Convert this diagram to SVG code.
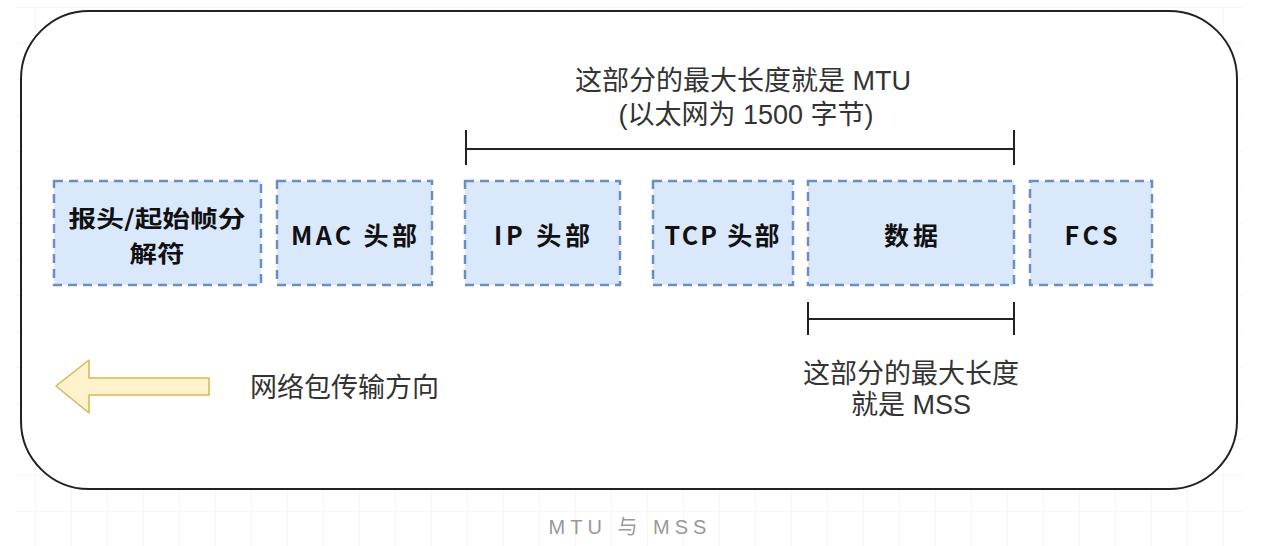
<svg xmlns="http://www.w3.org/2000/svg" width="1275" height="546" viewBox="0 0 1275 546">
<defs>
<pattern id="grid" x="-1" y="7" width="36" height="36" patternUnits="userSpaceOnUse">
<path d="M36 0H0V36" fill="none" stroke="#f0f0f0" stroke-width="1"/>
</pattern>
<style>
.box{fill:#dae8fc;stroke:#6c8ebf;stroke-width:2.5;stroke-dasharray:9 6;}
.lbl{font-family:"Noto Sans CJK SC","Liberation Sans",sans-serif;font-weight:bold;font-size:25px;fill:#111;text-anchor:middle;}
.lbl2{font-size:23px;}
.note{font-family:"Liberation Sans","Noto Sans CJK SC",sans-serif;font-size:27px;fill:#333;text-anchor:middle;}
.br{stroke:#222;stroke-width:2;fill:none;}
</style>
</defs>
<rect x="0" y="0" width="1275" height="546" fill="#fff"/>
<rect x="15" y="7" width="1228" height="539" fill="url(#grid)"/>
<rect id="frame" x="21" y="11" width="1216" height="478" rx="68" ry="68" fill="#fff" stroke="#222" stroke-width="2"/>

<g id="n-preamble"><rect class="box" x="54" y="181" width="207" height="104"/><text class="lbl lbl2" x="157" y="227" textLength="177" lengthAdjust="spacingAndGlyphs">报头/起始帧分</text><text class="lbl lbl2" x="157" y="262" textLength="55" lengthAdjust="spacingAndGlyphs">解符</text></g>
<g id="n-mac"><rect class="box" x="277" y="181" width="155" height="104"/><text class="lbl" x="354" y="245" textLength="126" lengthAdjust="spacing">MAC 头部</text></g>
<g id="n-ip"><rect class="box" x="465" y="181" width="155" height="104"/><text class="lbl" x="542" y="245" textLength="96" lengthAdjust="spacing">IP 头部</text></g>
<g id="n-tcp"><rect class="box" x="653" y="181" width="140" height="104"/><text class="lbl" x="722" y="245" textLength="115" lengthAdjust="spacing">TCP 头部</text></g>
<g id="n-data"><rect class="box" x="808" y="181" width="206" height="104"/><text class="lbl" x="911" y="245" textLength="54" lengthAdjust="spacing">数据</text></g>
<g id="n-fcs"><rect class="box" x="1030" y="181" width="122" height="104"/><text class="lbl" x="1091" y="245" textLength="53" lengthAdjust="spacing">FCS</text></g>

<g id="connectors">
<path class="br" d="M466 130V165M466 149H1014M1014 130V165"/>
<path class="br" d="M808 302V335M808 319H1014M1014 302V335"/>
</g>

<g id="n-mtu-note"><text class="note" x="743" y="90">这部分的最大长度就是 MTU</text><text class="note" x="746" y="124">(以太网为 1500 字节)</text></g>
<g id="n-mss-note"><text class="note" x="911" y="383">这部分的最大长度</text><text class="note" x="911" y="414">就是 MSS</text></g>

<g id="n-arrow"><path d="M56 386L89 360V378H209V395H89V413Z" fill="#fff2cc" stroke="#d6b656" stroke-width="1.5" stroke-linejoin="round"/></g>
<g id="n-dir"><text class="note" x="250" y="397" style="text-anchor:start">网络包传输方向</text></g>

<text x="630" y="534" font-family="Liberation Sans,Noto Sans CJK SC,sans-serif" font-size="20" fill="#999" text-anchor="middle" letter-spacing="5">MTU 与 MSS</text>
</svg>
